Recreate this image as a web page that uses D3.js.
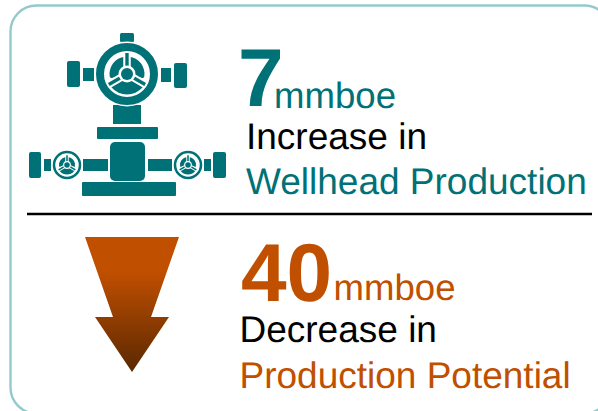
<!DOCTYPE html>
<html>
<head>
<meta charset="utf-8">
<script src="https://cdn.jsdelivr.net/npm/d3@7"></script>
<style>
  html, body { margin: 0; padding: 0; background: #fff; }
  svg { display: block; }
  text { font-family: "Liberation Sans", Arial, sans-serif; text-rendering: geometricPrecision; }
</style>
</head>
<body>
<script>
// Headline figures and their captions
const values = ["7", "40"];
const unit = "mmboe";
const leadLines = ["Increase in", "Decrease in"];
const subjectLines = ["Wellhead Production", "Production Potential"];

const TEAL = "#007176";
const ORANGE = "#c04f00";

const svg = d3.select("body").append("svg").attr("width", 598).attr("height", 411);

// Gradient for the down arrow
const grad = svg.append("defs").append("linearGradient")
  .attr("id", "arrowFill").attr("x1", 0).attr("y1", 0).attr("x2", 0).attr("y2", 1);
grad.append("stop").attr("offset", "0.26").attr("stop-color", ORANGE);
grad.append("stop").attr("offset", "1").attr("stop-color", "#5a2800");

// Panel outline, running off the right and bottom edges
svg.append("rect")
  .attr("x", 10.5).attr("y", 5.5).attr("width", 600).attr("height", 408)
  .attr("rx", 26).attr("ry", 26)
  .attr("fill", "#fff").attr("stroke", "#94cace").attr("stroke-width", 2.4);

// Divider between the two panels
svg.append("line")
  .attr("x1", 27).attr("x2", 592).attr("y1", 214).attr("y2", 214)
  .attr("stroke", "#000").attr("stroke-width", 2.4);

// Wellhead pictogram: blocks as [x0, y0, x1, y1, corner radius]
const blocks = [
  [120, 33, 134, 42, 1.5],
  [67, 61, 80, 87, 2],
  [83, 68, 94, 81, 0],
  [161, 68, 171, 82, 0],
  [174, 63, 187, 88, 2],
  [113, 105, 141, 124, 0],
  [97, 127, 158, 139, 1],
  [110, 142, 145, 181, 5],
  [82, 182, 176, 196, 1],
  [83, 159, 108, 171, 0],
  [148, 159, 172, 171, 0],
  [29, 152, 41, 178, 2],
  [44, 159, 51, 171, 0],
  [204, 159, 211, 171, 0],
  [213, 152, 226, 178, 2]
];
const icon = svg.append("g").attr("fill", TEAL);
icon.selectAll("rect").data(blocks).join("rect")
  .attr("x", d => d[0]).attr("y", d => d[1])
  .attr("width", d => d[2] - d[0]).attr("height", d => d[3] - d[1])
  .attr("rx", d => d[4]);

// Handwheel: outer ring, three spokes around a hub, and a lobe between each pair of spokes
function wheel(cx, cy, k, ringWidth) {
  const g = svg.append("g").attr("transform", `translate(${cx},${cy}) scale(${k})`);
  const deg = a => a * Math.PI / 180;
  g.append("circle").attr("r", 32.5).attr("fill", "#fff");
  g.append("circle").attr("r", 31 - ringWidth / 2)
    .attr("fill", "#fff").attr("stroke", TEAL).attr("stroke-width", ringWidth);
  const lobe = d3.arc();
  const lobes = [
    { innerRadius: 6, outerRadius: 17.5, startAngle: deg(0), endAngle: deg(105) },
    { innerRadius: 6, outerRadius: 17.5, startAngle: deg(-105), endAngle: deg(0) },
    { innerRadius: 6, outerRadius: 20.5, startAngle: deg(125), endAngle: deg(235) }
  ];
  g.selectAll("path").data(lobes).join("path")
    .attr("d", d => lobe.cornerRadius(2)(d)).attr("fill", TEAL);
  [0, 120, 240].forEach(a => {
    const r = deg(a);
    const spoke = [[0, 0], [21 * Math.sin(r), -21 * Math.cos(r)]];
    // White casing first, so each spoke stands clear of the lobes beside it
    g.append("path").attr("d", d3.line()(spoke)).attr("stroke", "#fff").attr("stroke-width", 7.5);
    g.append("path").attr("d", d3.line()(spoke)).attr("stroke", TEAL).attr("stroke-width", 3.4);
  });
  g.append("circle").attr("r", 8.5).attr("fill", "#fff");
  g.append("circle").attr("r", 6).attr("fill", TEAL);
}
wheel(127, 74, 1, 8);
wheel(67, 165, 0.46, 5.5);
wheel(188, 165, 0.46, 5.5);

// Down arrow
const arrowLine = d3.line();
svg.append("path")
  .attr("d", arrowLine([[85, 237], [179, 237], [151, 317], [169, 317], [132, 372], [95, 317], [113, 317]]) + "Z")
  .attr("fill", "url(#arrowFill)");

// Text blocks, one per panel
const textColors = [TEAL, ORANGE];
const layout = [
  { vx: 238, vy: 106, ux: 274, uy: 108, lx: 246, ly: 149, sx: 246, sy: 194 },
  { vx: 241, vy: 301, ux: 333.5, uy: 300, lx: 239.5, ly: 342, sx: 239.5, sy: 388 }
];
values.forEach((v, i) => {
  const p = layout[i];
  const c = textColors[i];
  const t = (x, y, s, size, fill, weight) => svg.append("text")
    .attr("x", x).attr("y", y).attr("font-size", size)
    .attr("font-weight", weight || 400).attr("fill", fill).text(s);
  t(p.vx, p.vy, v, 82, c, 700);
  t(p.ux, p.uy, unit, 36.6, c);
  t(p.lx, p.ly, leadLines[i], 37, "#000");
  t(p.sx, p.sy, subjectLines[i], 37, c);
});
</script>
</body>
</html>
